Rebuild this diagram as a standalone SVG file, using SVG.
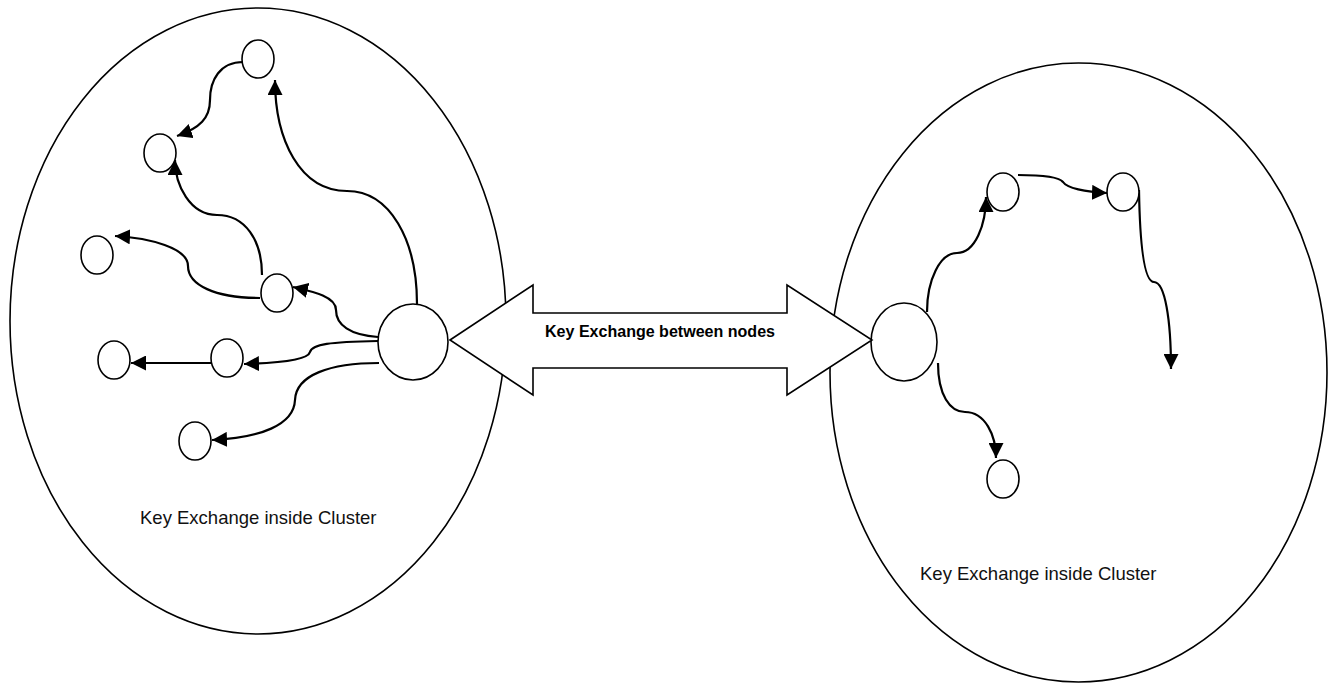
<svg xmlns="http://www.w3.org/2000/svg" width="1328" height="683" viewBox="0 0 1328 683">
<style>
.cluster{fill:#fff;stroke:#000;stroke-width:1.6}
.node{fill:#fff;stroke:#000;stroke-width:1.6}
.conn{fill:none;stroke:#000;stroke-width:2.2;marker-end:url(#ah)}
.lbl{font-family:"Liberation Sans",Arial,sans-serif;font-size:18.5px;fill:#111}
.blbl{font-family:"Liberation Sans",Arial,sans-serif;font-size:16px;font-weight:bold;fill:#000}
</style>
<defs>
<marker id="ah" markerUnits="userSpaceOnUse" markerWidth="15" markerHeight="15" viewBox="0 0 15 15" refX="15" refY="7.5" orient="auto">
<path d="M0,0 L15,7.5 L0,15 z" fill="#000"/>
</marker>
</defs>
<rect width="1328" height="683" fill="#fff"/>
<g id="cluster-left"><ellipse class="cluster" cx="258" cy="321" rx="248" ry="313"/></g>
<g id="cluster-right"><ellipse class="cluster" cx="1078.5" cy="372.5" rx="248.5" ry="309.5"/></g>
<g id="connectors">
<path class="conn" d="M417,304 C417,240 390,191 347,191 C300,191 275,140 275,80"/>
<path class="conn" d="M243,62 C220,62 210,80 210,100 C210,118 200,128 177,136"/>
<path class="conn" d="M262,275 C262,240 245,215 217,215 C190,215 175,185 175,160"/>
<path class="conn" d="M260,298 C215,298 188,285 188,266 C188,248 150,238 115,236"/>
<path class="conn" d="M378,337 C350,335 336,325 336,310 C336,297 315,292 293,287"/>
<path class="conn" d="M378,341 C330,342 312,344 310,352 C308,360 280,363 244,364"/>
<path class="conn" d="M211,363 L131,363"/>
<path class="conn" d="M379,363 C330,363 296,375 295,400 C294,425 260,438 212,440"/>
<path class="conn" d="M927,312 C927,280 940,253 957,253 C975,253 986,225 986,197"/>
<path class="conn" d="M1018,175 C1050,175 1060,178 1063,182 C1067,188 1085,192 1107,193"/>
<path class="conn" d="M1139,190 C1140,250 1145,282 1154,282 C1165,282 1171,320 1171,369"/>
<path class="conn" d="M938,363 C938,395 950,412 965,412 C985,412 996,435 996,458"/>
</g>
<g id="node-hub-left"><ellipse class="node" cx="413" cy="342" rx="35" ry="38"/></g>
<g id="node-l1"><ellipse class="node" cx="258" cy="59" rx="16" ry="19"/></g>
<g id="node-l2"><ellipse class="node" cx="160" cy="153" rx="16" ry="19"/></g>
<g id="node-l3"><ellipse class="node" cx="97" cy="255" rx="16" ry="19"/></g>
<g id="node-l4"><ellipse class="node" cx="277" cy="293" rx="16" ry="19"/></g>
<g id="node-l5"><ellipse class="node" cx="114" cy="360" rx="16" ry="19"/></g>
<g id="node-l6"><ellipse class="node" cx="227" cy="358" rx="16" ry="19"/></g>
<g id="node-l7"><ellipse class="node" cx="195" cy="441" rx="16" ry="19"/></g>
<g id="node-hub-right"><ellipse class="node" cx="904" cy="342" rx="33" ry="39"/></g>
<g id="node-r1"><ellipse class="node" cx="1003" cy="192" rx="16" ry="19"/></g>
<g id="node-r2"><ellipse class="node" cx="1123" cy="192" rx="16" ry="19"/></g>
<g id="node-r3"><ellipse class="node" cx="1003" cy="479" rx="16" ry="19"/></g>
<g id="exchange-arrow">
<polygon class="node" points="450,340 533,285 533,313 787,313 787,285 872,340 787,395 787,368 533,368 533,395"/>
<text class="blbl" x="545" y="337" textLength="230" lengthAdjust="spacingAndGlyphs">Key Exchange between nodes</text>
</g>
<g id="labels">
<text class="lbl" x="140" y="524">Key Exchange inside Cluster</text>
<text class="lbl" x="920" y="580">Key Exchange inside Cluster</text>
</g>
</svg>
